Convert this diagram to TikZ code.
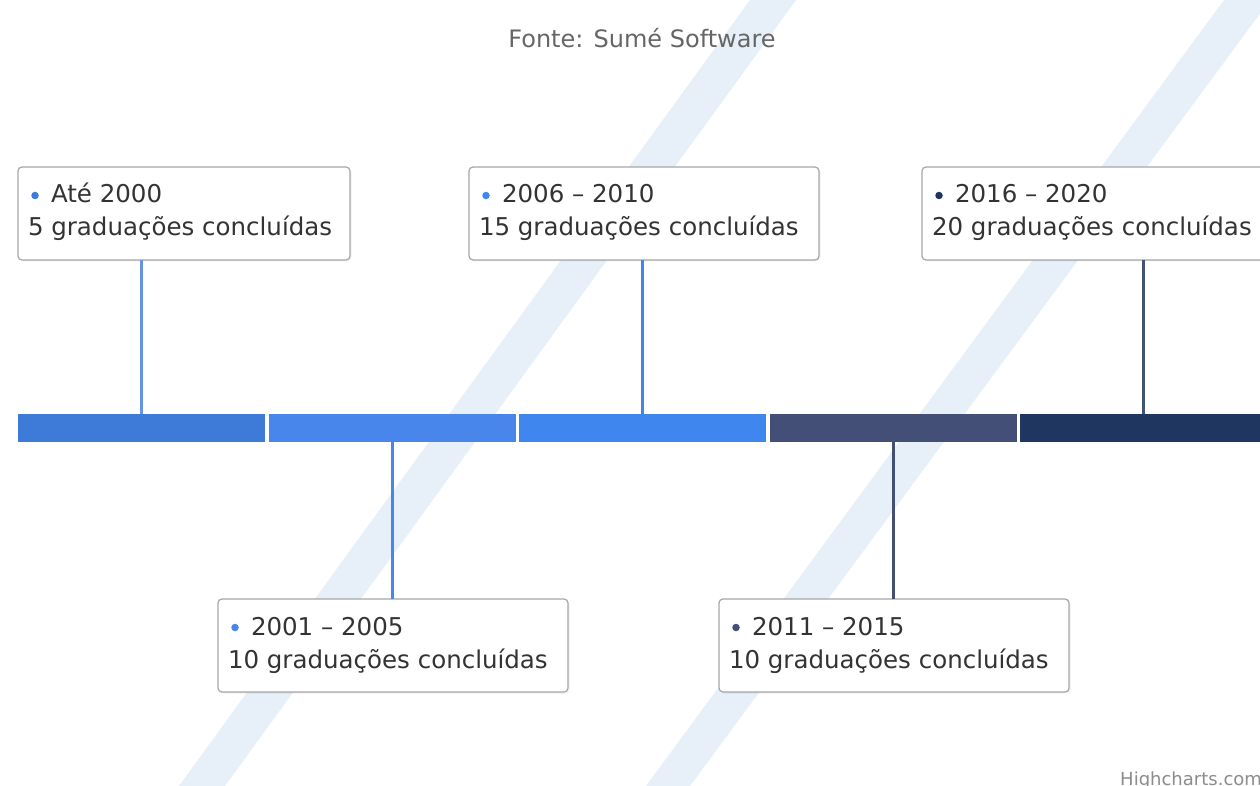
\documentclass[tikz,border=0pt]{standalone}
\usepackage{fontspec}
\setmainfont{DejaVu Sans}
\definecolor{cA}{HTML}{3E7BD8}
\definecolor{cB}{HTML}{4886EC}
\definecolor{cC}{HTML}{3F87EF}
\definecolor{cD}{HTML}{444F78}
\definecolor{cE}{HTML}{1F3660}
\definecolor{band}{HTML}{E7EFF8}
\definecolor{txt}{HTML}{333333}
\definecolor{ttl}{HTML}{666666}
\definecolor{brd}{HTML}{A6A6A6}
\begin{document}
\begin{tikzpicture}[x=1pt,y=-1pt,
  seg/.style={rectangle,inner sep=0pt,outer sep=0pt,minimum width=247pt,minimum height=28pt,anchor=north west,draw=none},
  lblbox/.style={rectangle,rounded corners=4pt,draw=brd,line width=1.2pt,fill=white,inner sep=0pt,outer sep=0pt,minimum width=350pt,minimum height=93pt,anchor=north west},
  shadowbox/.style={rectangle,rounded corners=4pt,fill=black,fill opacity=0.06,draw=none,inner sep=0pt,outer sep=0pt,minimum width=350pt,minimum height=93pt,anchor=north west},
  lbl/.style={inner sep=0pt,outer sep=0pt,anchor=base west,text=txt,font=\fontsize{24.5}{29}\selectfont},
  dotm/.style={circle,inner sep=0pt,outer sep=0pt,minimum size=7.5pt,draw=none},
  conn/.style={line width=2.2pt}]
\useasboundingbox (0,0) rectangle (1260,786);
\clip (0,0) rectangle (1260,786);
\fill[white] (0,0) rectangle (1260,786);
% background bands
\fill[band] (750,0) -- (796,0) -- (225,786) -- (179,786) -- cycle;
\fill[band] (1224,0) -- (1270,0) -- (690,786) -- (646,786) -- cycle;
% title
\node[inner sep=0pt,anchor=base,text=ttl,font=\fontsize{24}{29}\selectfont] (title) at (642,48) {Fonte: Sumé Software};
% bar segments
\node[seg,fill=cA] (s1) at (18,414) {};
\node[seg,fill=cB] (s2) at (269,414) {};
\node[seg,fill=cC] (s3) at (519,414) {};
\node[seg,fill=cD] (s4) at (770,414) {};
\node[seg,fill=cE] (s5) at (1020,414) {};
% boxes
\node[shadowbox,minimum width=332pt] (h1) at (19.5,168.5) {};
\node[shadowbox] (h3) at (470.5,168.5) {};
\node[shadowbox] (h5) at (923.5,168.5) {};
\node[shadowbox] (h2) at (219.5,600.5) {};
\node[shadowbox] (h4) at (720.5,600.5) {};
\node[lblbox,minimum width=332pt] (b1) at (18,167) {};
\node[lblbox] (b3) at (469,167) {};
\node[lblbox] (b5) at (922,167) {};
\node[lblbox] (b2) at (218,599) {};
\node[lblbox] (b4) at (719,599) {};
% connectors
\draw[conn,cA!80!white] (s1.north |- b1.south) -- (s1.north);
\draw[conn,cC] (s3.north |- b3.south) -- (s3.north);
\draw[conn,cE!85!white] (s5.north |- b5.south) -- (s5.north);
\draw[conn,cB] (s2.south) -- (s2.south |- b2.north);
\draw[conn,cD] (s4.south) -- (s4.south |- b4.north);
% labels top
\node[dotm,fill=cA] (d1) at (35,195.5) {};
\node[lbl] (t1a) at (51,203) {Até 2000};
\node[lbl] (t1b) at (28,236) {5 graduações concluídas};
\node[dotm,fill=cC] (d3) at (486,195.5) {};
\node[lbl] (t3a) at (502,203) {2006 – 2010};
\node[lbl] (t3b) at (479,236) {15 graduações concluídas};
\node[dotm,fill=cE] (d5) at (939,195.5) {};
\node[lbl] (t5a) at (955,203) {2016 – 2020};
\node[lbl] (t5b) at (932,236) {20 graduações concluídas};
% labels bottom
\node[dotm,fill=cB] (d2) at (235,627.5) {};
\node[lbl] (t2a) at (251,635) {2001 – 2005};
\node[lbl] (t2b) at (228,668) {10 graduações concluídas};
\node[dotm,fill=cD] (d4) at (736,627.5) {};
\node[lbl] (t4a) at (752,635) {2011 – 2015};
\node[lbl] (t4b) at (729,668) {10 graduações concluídas};
% credits
\node[inner sep=0pt,anchor=base west,text=black!45,font=\fontsize{18}{22}\selectfont] (credit) at (1120,785) {Highcharts.com};
\end{tikzpicture}
\end{document}
